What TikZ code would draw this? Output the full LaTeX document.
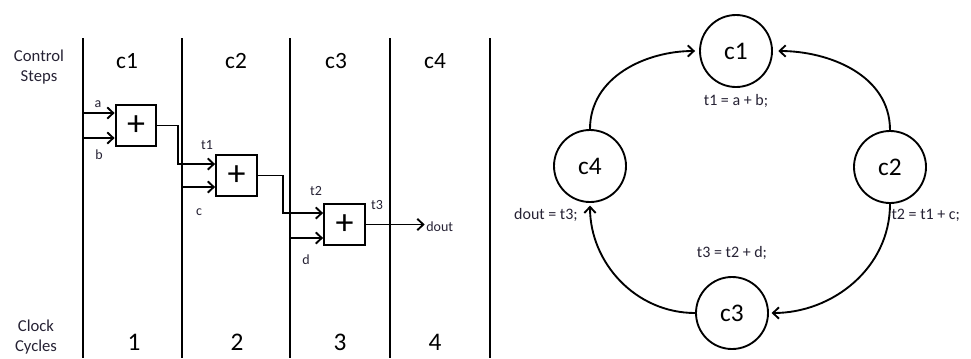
\documentclass[tikz,border=0pt]{standalone}
\usepackage{fontspec}
\setmainfont{Carlito}
\usetikzlibrary{arrows.meta,positioning,calc}
\definecolor{txt}{RGB}{38,34,52}

\begin{document}
\begin{tikzpicture}[x=0.75pt,y=-0.75pt,
  adder/.style={draw,line width=1.6pt,minimum size=30.5pt,inner sep=0pt,font=\fontsize{27}{27}\selectfont},
  wire/.style={line width=1.4pt},
  arr/.style={wire,-{Straight Barb[length=4.5pt,width=8.5pt]}},
  col/.style={line width=1.6pt},
  lbl/.style={text=txt,font=\fontsize{10.5}{12}\selectfont,inner sep=0pt},
  hd/.style={font=\fontsize{17.5}{18}\selectfont,anchor=base},
  side/.style={text=txt,align=center,font=\fontsize{12.5}{15}\selectfont},
  st/.style={draw,circle,line width=1.4pt,minimum size=54pt,inner sep=0pt,font=\fontsize{19}{19}\selectfont},
  eq/.style={text=txt,font=\fontsize{12}{14}\selectfont,inner sep=0pt}]
\useasboundingbox (0,0) rectangle (971,358);
% columns of the schedule
\foreach \x [count=\i from 0] in {83,182,290,390,490}
  \draw[col] (\x,38) -- (\x,358);
\foreach \x/\t in {127/c1,236/c2,336/c3,435/c4}
  \node[hd] at (\x,68) {\t};
\foreach \x/\t in {134/1,237/2,340/3,435/4}
  \node[hd,font=\fontsize{19}{19}\selectfont] at (\x,350) {\t};
\node[side] (cs) at (39,67) {Control\\Steps};
\node[side] (cc) at (36,337) {Clock\\Cycles};
% adders
\node[adder] (add1) at (136,125.5) {+};
\node[adder] (add2) at (236.5,175.5) {+};
\node[adder] (add3) at (344.5,224.5) {+};
\coordinate (ina) at (83,113); \coordinate (inb) at (83,138);
\coordinate (inc) at (182,187); \coordinate (ind) at (290,238);
\node[lbl,anchor=west] (dout) at (426,227) {dout};
\draw[arr] (ina) -- (ina -| add1.west);
\draw[arr] (inb) -- (inb -| add1.west);
\draw[arr] (add1.east) -- ++(21,0) |- ([yshift=8.6pt]add2.west);
\draw[arr] (inc) -- (inc -| add2.west);
\draw[arr] (add2.east) -- ++(25,0) |- ([yshift=8.6pt]add3.west);
\draw[arr] (ind) -- (ind -| add3.west);
\draw[arr,shorten >=1pt] (add3.east) -- (add3.east -| dout.west);
\node[lbl] at (98,104) {a};
\node[lbl] at (99,155) {b};
\node[lbl] at (207,145) {t1};
\node[lbl] at (199,212) {c};
\node[lbl] at (316,191) {t2};
\node[lbl] at (306,260) {d};
\node[lbl] at (377,205) {t3};
% state graph
\node[st] (s1) at (736,51) {c1};
\node[st] (s2) at (890,167) {c2};
\node[st] (s3) at (732,313) {c3};
\node[st] (s4) at (590,166) {c4};
\draw[arr,shorten >=3pt] (s4.north) to[out=90,in=180] (s1.west);
\draw[arr,shorten >=4pt] (s2.north) to[out=90,in=0] (s1.east);
\draw[arr,shorten >=2pt] (s2.south) to[out=-90,in=0] (s3.east);
\draw[arr,shorten >=2pt] (s3.west) to[out=180,in=-90] (s4.south);
\node[eq,below=5pt of s1] (e1) {t1 = a + b;};
\node[eq,below right=4pt and 1pt of s2.south] (e2) {t2 = t1 + c;};
\node[eq,above=12pt of s3] (e3) {t3 = t2 + d;};
\node[eq,below left=4pt and 9pt of s4.south] (e4) {dout = t3;};
\end{tikzpicture}
\end{document}
